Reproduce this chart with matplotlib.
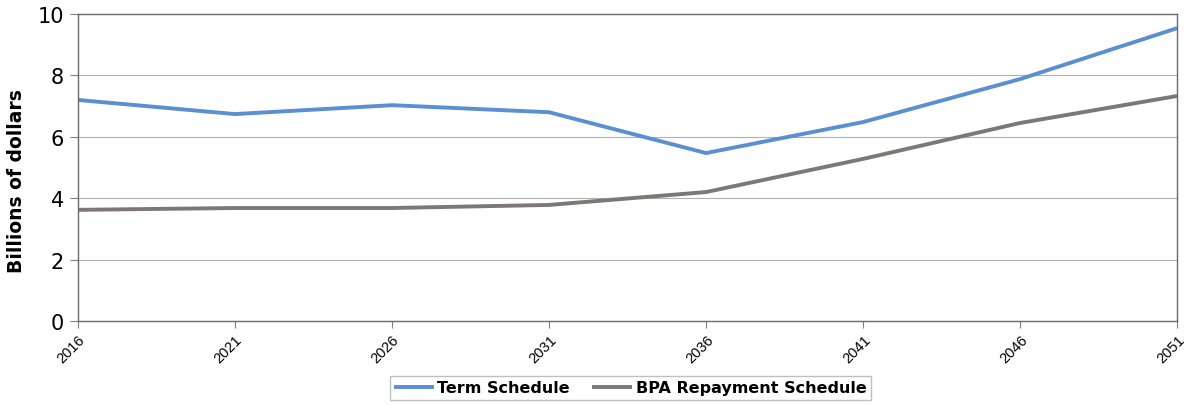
import matplotlib.pyplot as plt

plt.rcParams.update({
    'font.family': 'DejaVu Sans',
})

# Debt outstanding under the two repayment schedules (billions of dollars)
YEARS = [2016, 2021, 2026, 2031, 2036, 2041, 2046, 2051]
TERM_SCHEDULE = [7.20, 6.74, 7.03, 6.80, 5.47, 6.48, 7.88, 9.54]
BPA_SCHEDULE = [3.62, 3.68, 3.68, 3.78, 4.20, 5.28, 6.45, 7.33]

fig = plt.figure(figsize=(11.87, 4.06), dpi=100)
ax = fig.add_axes([0.0657, 0.207, 0.926, 0.756])

ax.plot(YEARS, TERM_SCHEDULE, color='#5a8fd2', linewidth=2.8, label='Term Schedule',
        solid_capstyle='butt')
ax.plot(YEARS, BPA_SCHEDULE, color='#7d7876', linewidth=2.8, label='BPA Repayment Schedule',
        solid_capstyle='butt')

ax.set_xlim(YEARS[0], YEARS[-1])
ax.set_ylim(0, 10)
ax.set_yticks([0, 2, 4, 6, 8, 10])
ax.set_xticks(YEARS)
ax.set_xticklabels([str(y) for y in YEARS], rotation=45, ha='right', va='top',
                   rotation_mode='anchor', fontsize=10.5, family='Liberation Sans')
ax.tick_params(axis='y', labelsize=15, length=6, color='#808080', pad=4)
ax.tick_params(axis='x', length=5, color='#808080', pad=3)
ax.grid(axis='y', color='#b0b0b0', linewidth=0.8)
ax.set_axisbelow(True)
for s in ax.spines.values():
    s.set_color('#6e6a68')
    s.set_linewidth(1.0)

ax.set_ylabel('Billions of dollars', fontsize=13.5, fontweight='bold')
ax.yaxis.set_label_coords(-0.047, 0.46)

leg = fig.legend(loc='center', bbox_to_anchor=(0.531, 0.042), ncol=2, frameon=True,
                 fancybox=False, handlelength=2.5, handletextpad=0.2, columnspacing=1.4,
                 prop={'weight': 'bold', 'size': 11.5}, borderpad=0.3)
leg.get_frame().set_edgecolor('#b0b0b0')
leg.get_frame().set_linewidth(1.0)

fig.savefig('out.png', dpi=100)
